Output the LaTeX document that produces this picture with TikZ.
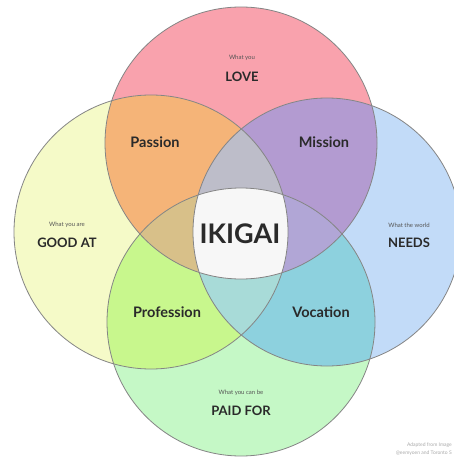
\documentclass[tikz,border=0pt]{standalone}
\usepackage{fontspec}
\setmainfont{Lato}
\definecolor{pinkc}{HTML}{F9A2AD}
\definecolor{yelc}{HTML}{F5FAC8}
\definecolor{bluec}{HTML}{C2DBF8}
\definecolor{greenc}{HTML}{C5F8C6}
\definecolor{passionc}{HTML}{F5B478}
\definecolor{missionc}{HTML}{B39BD1}
\definecolor{professionc}{HTML}{C8F78D}
\definecolor{vocationc}{HTML}{8DD1DE}
\definecolor{tlrc}{HTML}{BDBDC9}
\definecolor{lrbc}{HTML}{A8DBD8}
\definecolor{tlbc}{HTML}{D8C089}
\definecolor{trbc}{HTML}{B1A6D6}
\definecolor{centerc}{HTML}{F7F7F7}
\definecolor{edgec}{HTML}{858585}
\definecolor{textc}{HTML}{2A2A2A}
\definecolor{smallc}{HTML}{555555}
\definecolor{creditc}{HTML}{AAAAAA}
\begin{document}
\begin{tikzpicture}[x=1pt,y=-1pt,
  circ/.style={draw=edgec,line width=0.8pt},
  small/.style={text=smallc,font=\fontsize{6}{7}\selectfont,inner sep=0pt},
  big/.style={text=textc,font=\fontsize{13}{15}\selectfont\bfseries,inner sep=0pt},
  area/.style={text=textc,font=\fontsize{14.5}{17}\selectfont\bfseries,inner sep=0pt},
  credit/.style={text=creditc,font=\fontsize{5}{6}\selectfont,inner sep=0pt,anchor=east}]
\useasboundingbox (0,0) rectangle (454,457);
\fill[white] (0,0) rectangle (454,457);
\def\cirT{(241,143) circle[radius=136pt]}
\def\cirL{(151,232) circle[radius=137pt]}
\def\cirR{(327,232) circle[radius=134pt]}
\def\cirB{(241,322) circle[radius=134pt]}
% base circles
\fill[pinkc] \cirT;
\fill[yelc] \cirL;
\fill[bluec] \cirR;
\fill[greenc] \cirB;
% pairs
\begin{scope}\clip \cirT; \fill[passionc] \cirL; \end{scope}
\begin{scope}\clip \cirT; \fill[missionc] \cirR; \end{scope}
\begin{scope}\clip \cirL; \fill[professionc] \cirB; \end{scope}
\begin{scope}\clip \cirR; \fill[vocationc] \cirB; \end{scope}
% triples
\begin{scope}\clip \cirT; \clip \cirL; \fill[tlrc] \cirR; \end{scope}
\begin{scope}\clip \cirL; \clip \cirR; \fill[lrbc] \cirB; \end{scope}
\begin{scope}\clip \cirT; \clip \cirL; \fill[tlbc] \cirB; \end{scope}
\begin{scope}\clip \cirT; \clip \cirR; \fill[trbc] \cirB; \end{scope}
% all four
\begin{scope}\clip \cirT; \clip \cirL; \clip \cirR; \fill[centerc] \cirB; \end{scope}
% outlines
\draw[circ] \cirT;
\draw[circ] \cirL;
\draw[circ] \cirR;
\draw[circ] \cirB;
% texts
\node[small] (wlove) at (242,58) {What you};
\node[big] (love) at (242,77) {LOVE};
\node[small] (wgood) at (67,225) {What you are};
\node[big] (good) at (67,243) {GOOD AT};
\node[small] (wneeds) at (409,225) {What the world};
\node[big] (needs) at (409,243) {NEEDS};
\node[small] (wpaid) at (241,393) {What you can be};
\node[big] (paid) at (241,411) {PAID FOR};
\node[area] (passion) at (155,142) {Passion};
\node[area] (mission) at (324,142) {Mission};
\node[area] (profession) at (167,312) {Profession};
\node[area] (vocation) at (321,312) {Vocation};
\node[text=textc,font=\fontsize{27}{30}\selectfont\bfseries,inner sep=0pt] (ikigai) at (240,234) {IKIGAI};
\node[credit] (cred1) at (452,445) {Adapted from Image};
\node[credit] (cred2) at (452,453) {@eemyoen and Toronto S};
\end{tikzpicture}
\end{document}
